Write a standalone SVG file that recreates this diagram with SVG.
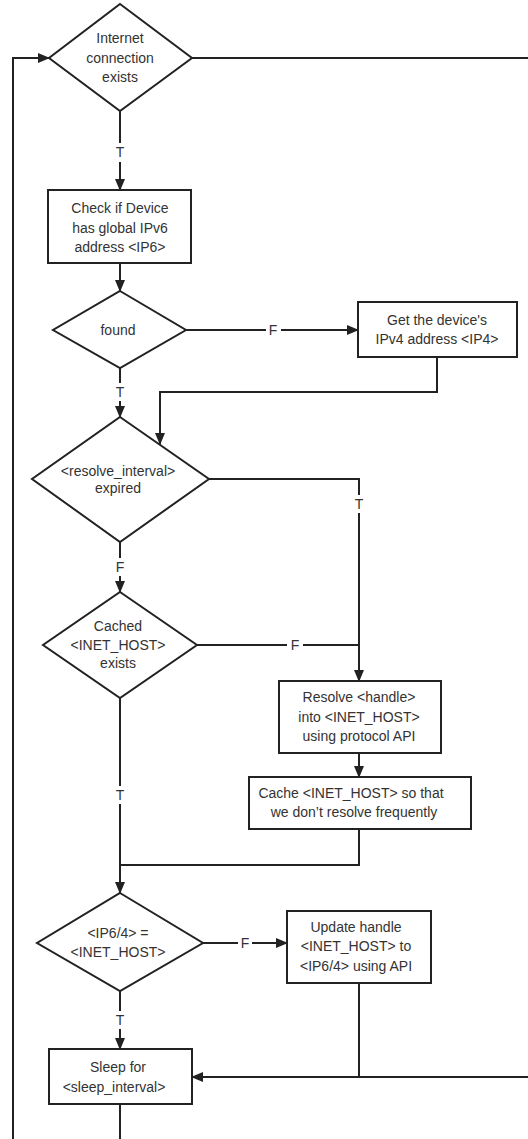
<svg xmlns="http://www.w3.org/2000/svg" width="528" height="1139" viewBox="0 0 528 1139">
<style>
.shape{fill:#fff;stroke:#222;stroke-width:2}
.c{fill:none;stroke:#222;stroke-width:2}
text{font-family:"Liberation Sans",Arial,sans-serif;font-size:14px;fill:#333;text-anchor:middle}
</style>
<defs>
<marker id="ah" markerUnits="userSpaceOnUse" markerWidth="12" markerHeight="10" refX="11" refY="5" orient="auto">
<path d="M0,0 L12,5 L0,10 z" fill="#222"/>
</marker>
</defs>
<rect width="528" height="1139" fill="#fff"/>
<g id="connectors">
<path class="c" d="M120,111 V143"/>
<path class="c" d="M120,162 V190" marker-end="url(#ah)"/>
<text x="120" y="157">T</text>
<path class="c" d="M120,263 V291" marker-end="url(#ah)"/>
<path class="c" d="M186,330 H266"/>
<path class="c" d="M281,330 H358" marker-end="url(#ah)"/>
<text x="273" y="335">F</text>
<path class="c" d="M437,357 V392 H160 V444" marker-end="url(#ah)"/>
<path class="c" d="M120,367 V383"/>
<path class="c" d="M120,401 V417" marker-end="url(#ah)"/>
<text x="120" y="397">T</text>
<path class="c" d="M209,479 H359 V495"/>
<text x="359" y="509">T</text>
<path class="c" d="M359,513 V681" marker-end="url(#ah)"/>
<path class="c" d="M120,542 V558"/>
<path class="c" d="M120,576 V592" marker-end="url(#ah)"/>
<text x="120" y="572">F</text>
<path class="c" d="M197,645 H287"/>
<path class="c" d="M303,645 H359"/>
<text x="295" y="650">F</text>
<path class="c" d="M359,753 V777" marker-end="url(#ah)"/>
<path class="c" d="M120,698 V786"/>
<text x="120" y="800">T</text>
<path class="c" d="M120,804 V893" marker-end="url(#ah)"/>
<path class="c" d="M359,829 V865 H120"/>
<path class="c" d="M203,943 H238"/>
<text x="245" y="948">F</text>
<path class="c" d="M252,943 H287" marker-end="url(#ah)"/>
<path class="c" d="M120,991 V1011"/>
<text x="120" y="1025">T</text>
<path class="c" d="M120,1029 V1049" marker-end="url(#ah)"/>
<path class="c" d="M359,983 V1077"/>
<path class="c" d="M530,1077 H192" marker-end="url(#ah)"/>
<path class="c" d="M120,1104 V1141"/>
<path class="c" d="M13,1141 V58 H49" marker-end="url(#ah)"/>
<path class="c" d="M192,58 H530"/>
</g>
<g id="n_internet">
<polygon class="shape" points="120,4 192,58 120,111 49,58"/>
<text x="120" y="43">Internet</text>
<text x="120" y="63">connection</text>
<text x="120" y="82">exists</text>
</g>
<g id="n_check_ipv6">
<rect class="shape" x="48" y="190" width="143" height="73"/>
<text x="120" y="213">Check if Device</text>
<text x="120" y="233">has global IPv6</text>
<text x="120" y="252">address &lt;IP6&gt;</text>
</g>
<g id="n_found">
<polygon class="shape" points="120,291 186,330 120,368 53,330"/>
<text x="118" y="335">found</text>
</g>
<g id="n_get_ipv4">
<rect class="shape" x="358" y="302" width="159" height="55"/>
<text x="437" y="325">Get the device's</text>
<text x="437" y="344">IPv4 address &lt;IP4&gt;</text>
</g>
<g id="n_resolve_expired">
<polygon class="shape" points="120,417 209,479 120,542 32,479"/>
<text x="118" y="476">&lt;resolve_interval&gt;</text>
<text x="118" y="493">expired</text>
</g>
<g id="n_cached_exists">
<polygon class="shape" points="120,592 197,645 120,698 43,645"/>
<text x="118" y="631">Cached</text>
<text x="118" y="650">&lt;INET_HOST&gt;</text>
<text x="118" y="668">exists</text>
</g>
<g id="n_resolve_handle">
<rect class="shape" x="279" y="681" width="162" height="72"/>
<text x="359" y="702">Resolve &lt;handle&gt;</text>
<text x="359" y="722">into &lt;INET_HOST&gt;</text>
<text x="359" y="741">using protocol API</text>
</g>
<g id="n_cache_host">
<rect class="shape" x="249" y="777" width="222" height="52"/>
<text x="351" y="798">Cache &lt;INET_HOST&gt; so that</text>
<text x="354" y="817">we don’t resolve frequently</text>
</g>
<g id="n_ip_equal">
<polygon class="shape" points="120,893 203,943 120,991 37,943"/>
<text x="118" y="938">&lt;IP6/4&gt; =</text>
<text x="118" y="957">&lt;INET_HOST&gt;</text>
</g>
<g id="n_update_handle">
<rect class="shape" x="287" y="911" width="144" height="72"/>
<text x="356" y="932">Update handle</text>
<text x="356" y="951">&lt;INET_HOST&gt; to</text>
<text x="356" y="971">&lt;IP6/4&gt; using API</text>
</g>
<g id="n_sleep">
<rect class="shape" x="49" y="1049" width="143" height="55"/>
<text x="118" y="1072">Sleep for</text>
<text x="114" y="1092">&lt;sleep_interval&gt;</text>
</g>
</svg>
